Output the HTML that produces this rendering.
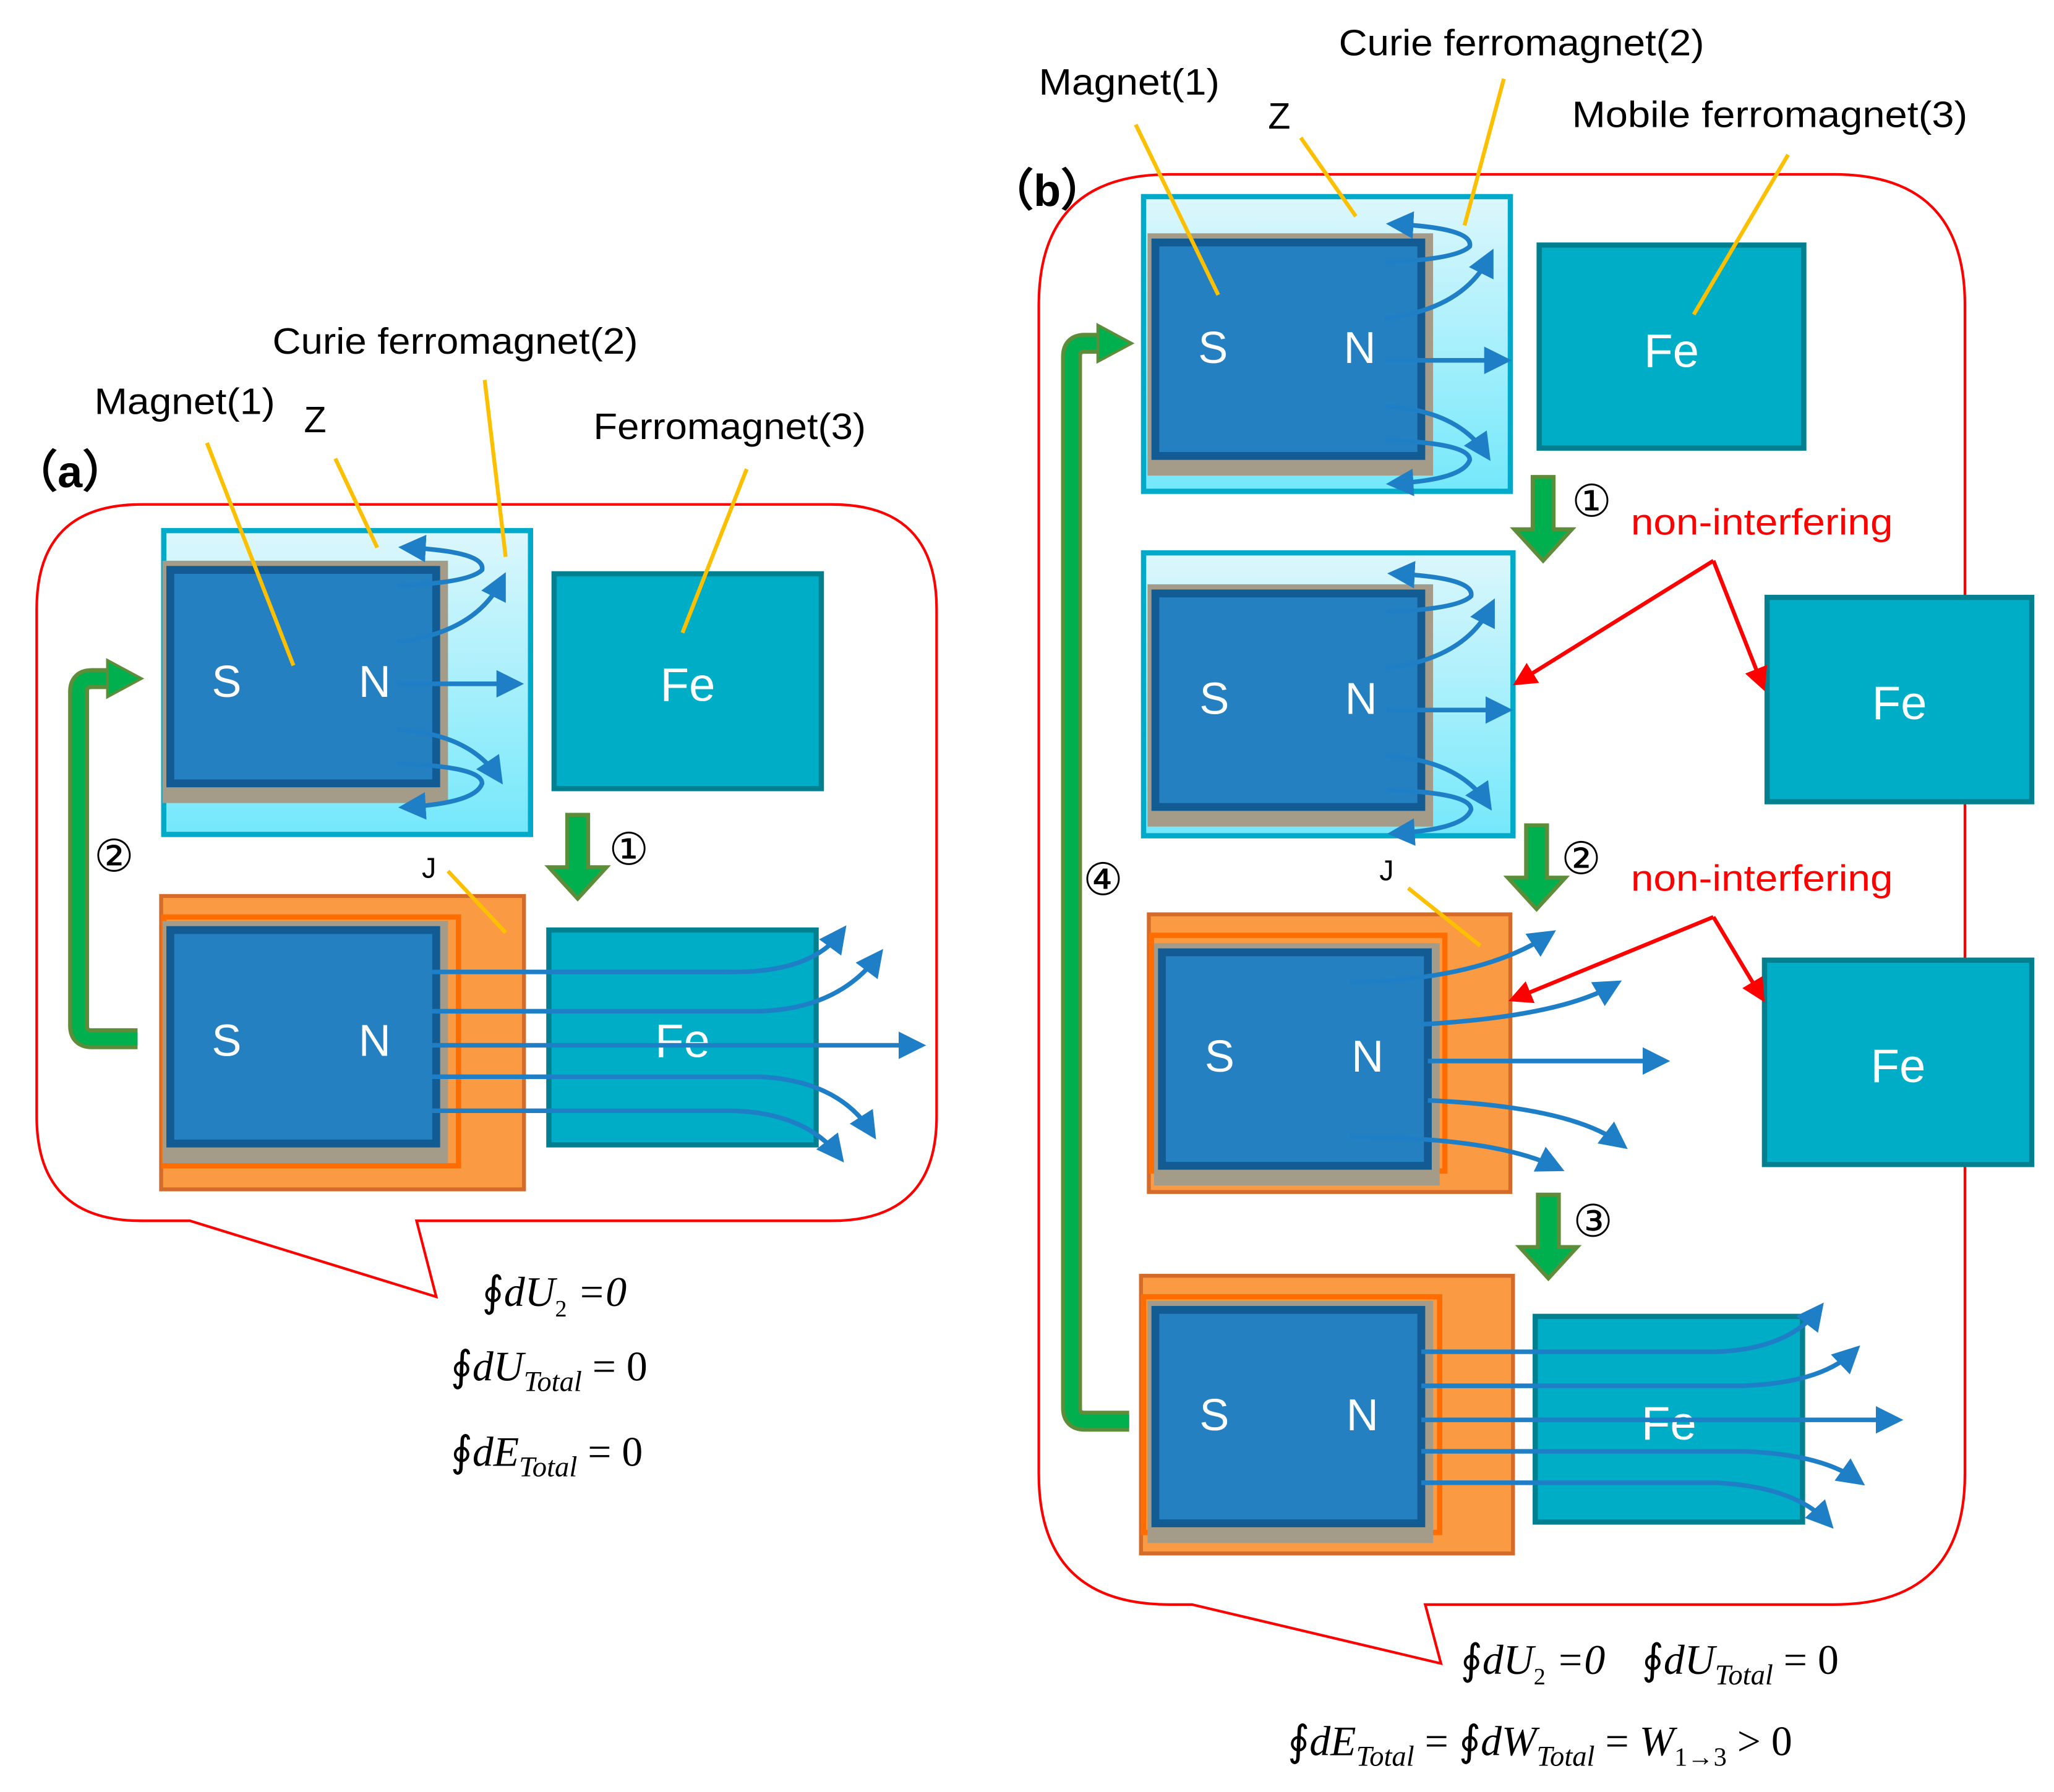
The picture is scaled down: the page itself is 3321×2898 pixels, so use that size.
<!DOCTYPE html>
<html><head><meta charset="utf-8"><style>html,body{margin:0;padding:0;background:#fff}svg{display:block}</style></head><body>
<svg width="3321" height="2898" viewBox="0 0 1568 1368" xmlns="http://www.w3.org/2000/svg" font-family="Liberation Sans, DejaVu Sans, sans-serif">
<defs>
<linearGradient id="lb" x1="0" y1="0" x2="0" y2="1"><stop offset="0" stop-color="#dcf7fc"/><stop offset="1" stop-color="#74e8fb"/></linearGradient>
<marker id="ab" markerWidth="6" markerHeight="6" refX="4" refY="3" orient="auto" markerUnits="strokeWidth"><path d="M0,0 L6,3 L0,6 Z" fill="#1f7fc6"/></marker>
<marker id="ar" markerWidth="6" markerHeight="6" refX="4" refY="3" orient="auto" markerUnits="strokeWidth"><path d="M0,0 L6,3 L0,6 Z" fill="#f00"/></marker>
<g id="mag">
<rect x="-2" y="-7" width="218" height="185" fill="#a49c88"/>
<rect x="4" y="0" width="203" height="163" fill="#2580c1" stroke="#135b93" stroke-width="6"/>
</g>
<g id="flux" fill="none" stroke="#1f7fc6" stroke-width="3.5" marker-end="url(#ab)">
<path d="M-30,12 Q25,10 35,0 Q38,-14 -22,-17"/>
<path d="M-30,55 Q30,48 50,8"/>
<path d="M-30,87 L60,87"/>
<path d="M-30,122 Q25,125 47,158"/>
<path d="M-30,148 Q35,150 35,163 Q30,178 -22,181"/>
</g>
<g id="garr"><path d="M-8,0 H8 V40 H22 L0,64 L-22,40 H-8 Z" fill="#00b04f" stroke="#5e8d3a" stroke-width="3"/></g>
</defs>

<path d="M108,385 H635 Q715,385 715,465 V852 Q715,932 635,932 H318 L333,990 L145,932 H108 Q28,932 28,852 V465 Q28,385 108,385 Z" fill="none" stroke="#f00" stroke-width="2"/>
<rect x="125" y="405" width="280" height="232" fill="url(#lb)" stroke="#00aac8" stroke-width="4"/>
<use href="#mag" x="126" y="435"/>
<use href="#flux" x="333" y="435"/>
<text x="173" y="532" font-size="34" fill="#fff" text-anchor="middle">S</text>
<text x="286" y="532" font-size="34" fill="#fff" text-anchor="middle">N</text>
<rect x="423" y="438" width="204" height="164" fill="#00adc7" stroke="#038090" stroke-width="4"/>
<text x="525" y="535" font-size="36" fill="#fff" text-anchor="middle">Fe</text>
<rect x="123" y="684" width="277" height="224" fill="#fa9a42" stroke="#d56b2a" stroke-width="3"/>
<rect x="125" y="700" width="225" height="190" fill="none" stroke="#ff6c00" stroke-width="4"/>
<use href="#mag" x="126" y="710"/>
<text x="173" y="806" font-size="34" fill="#fff" text-anchor="middle">S</text>
<text x="286" y="806" font-size="34" fill="#fff" text-anchor="middle">N</text>
<rect x="419" y="710" width="204" height="164" fill="#00adc7" stroke="#038090" stroke-width="4"/>
<text x="521" y="807" font-size="36" fill="#fff" text-anchor="middle">Fe</text>
<g fill="none" stroke="#1f7fc6" stroke-width="3.5" marker-end="url(#ab)">
<path d="M330,742 L560,742 Q620,742 642,712"/>
<path d="M330,772 L580,772 Q640,770 670,730"/>
<path d="M330,798 L700,798"/>
<path d="M330,822 L580,822 Q640,825 665,864"/>
<path d="M330,848 L560,848 Q615,850 640,882"/>
</g>
<use href="#garr" x="441" y="622"/>
<text x="480" y="660" font-size="34" text-anchor="middle">①</text>
<text x="87" y="665" font-size="34" text-anchor="middle">②</text>
<path d="M105,793 H70 Q60,793 60,783 V528 Q60,518 70,518 H85" fill="none" stroke="#5e8d3a" stroke-width="16"/>
<path d="M105,793 H70 Q60,793 60,783 V528 Q60,518 70,518 H85" fill="none" stroke="#00b04f" stroke-width="10"/>
<path d="M82,504 L108,518 L82,532 Z" fill="#00b04f" stroke="#5e8d3a" stroke-width="2"/>
<g stroke="#fcc000" stroke-width="3">
<line x1="158" y1="338" x2="224" y2="508"/><line x1="256" y1="350" x2="288" y2="418"/>
<line x1="370" y1="290" x2="386" y2="425"/><line x1="570" y1="358" x2="521" y2="483"/>
<line x1="342" y1="665" x2="386" y2="712"/>
</g>
<g font-size="28" fill="#000">
<text x="72" y="316" textLength="138" lengthAdjust="spacingAndGlyphs">Magnet(1)</text><text x="232" y="330">Z</text>
<text x="208" y="270" textLength="279" lengthAdjust="spacingAndGlyphs">Curie ferromagnet(2)</text><text x="453" y="335" textLength="208" lengthAdjust="spacingAndGlyphs">Ferromagnet(3)</text>
<text x="322" y="670" font-size="22">J</text>
<text x="10" y="372" font-size="34" font-weight="bold">（a）</text>
</g>
<g font-family="Liberation Serif, serif" font-size="32" fill="#000">
<text x="368" y="997">∮<tspan font-style="italic">dU</tspan><tspan font-size="18" dy="8">2</tspan><tspan dy="-8" font-style="italic"> =0</tspan></text>
<text x="344" y="1054">∮<tspan font-style="italic">dU</tspan><tspan font-size="22" dy="8" font-style="italic">Total</tspan><tspan dy="-8"> = 0</tspan></text>
<text x="344" y="1119">∮<tspan font-style="italic">dE</tspan><tspan font-size="22" dy="8" font-style="italic">Total</tspan><tspan dy="-8"> = 0</tspan></text>
</g>

<path d="M893,133 H1400 Q1500,133 1500,233 V1125 Q1500,1225 1400,1225 H1088 L1100,1270 L910,1225 H893 Q793,1225 793,1125 V233 Q793,133 893,133 Z" fill="none" stroke="#f00" stroke-width="2"/>
<rect x="873" y="150" width="280" height="225" fill="url(#lb)" stroke="#00aac8" stroke-width="4"/>
<use href="#mag" x="878" y="185"/>
<use href="#flux" x="1087" y="188"/>
<text x="926" y="277" font-size="34" fill="#fff" text-anchor="middle">S</text>
<text x="1038" y="277" font-size="34" fill="#fff" text-anchor="middle">N</text>
<rect x="1175" y="187" width="202" height="155" fill="#00adc7" stroke="#038090" stroke-width="4"/>
<text x="1276" y="280" font-size="36" fill="#fff" text-anchor="middle">Fe</text>
<rect x="873" y="422" width="282" height="216" fill="url(#lb)" stroke="#00aac8" stroke-width="4"/>
<use href="#mag" x="878" y="453"/>
<use href="#flux" x="1088" y="455"/>
<text x="927" y="545" font-size="34" fill="#fff" text-anchor="middle">S</text>
<text x="1039" y="545" font-size="34" fill="#fff" text-anchor="middle">N</text>
<rect x="1349" y="456" width="202" height="156" fill="#00adc7" stroke="#038090" stroke-width="4"/>
<text x="1450" y="549" font-size="36" fill="#fff" text-anchor="middle">Fe</text>
<rect x="877" y="698" width="276" height="212" fill="#fa9a42" stroke="#d56b2a" stroke-width="3"/>
<rect x="879" y="714" width="224" height="180" fill="none" stroke="#ff6c00" stroke-width="4"/>
<use href="#mag" x="883" y="727"/>
<text x="931" y="818" font-size="34" fill="#fff" text-anchor="middle">S</text>
<text x="1044" y="818" font-size="34" fill="#fff" text-anchor="middle">N</text>
<g fill="none" stroke="#1f7fc6" stroke-width="3.5" marker-end="url(#ab)">
<path d="M1030,750 Q1130,748 1182,714"/>
<path d="M1085,782 Q1190,776 1232,752"/>
<path d="M1090,810 L1268,810"/>
<path d="M1090,840 Q1200,845 1237,873"/>
<path d="M1030,868 Q1140,868 1188,891"/>
</g>
<rect x="1347" y="733" width="204" height="156" fill="#00adc7" stroke="#038090" stroke-width="4"/>
<text x="1449" y="826" font-size="36" fill="#fff" text-anchor="middle">Fe</text>
<rect x="871" y="974" width="284" height="212" fill="#fa9a42" stroke="#d56b2a" stroke-width="3"/>
<rect x="873" y="990" width="226" height="180" fill="none" stroke="#ff6c00" stroke-width="4"/>
<use href="#mag" x="878" y="1000"/>
<text x="927" y="1092" font-size="34" fill="#fff" text-anchor="middle">S</text>
<text x="1040" y="1092" font-size="34" fill="#fff" text-anchor="middle">N</text>
<rect x="1172" y="1005" width="204" height="157" fill="#00adc7" stroke="#038090" stroke-width="4"/>
<text x="1274" y="1099" font-size="36" fill="#fff" text-anchor="middle">Fe</text>
<g fill="none" stroke="#1f7fc6" stroke-width="3.5" marker-end="url(#ab)">
<path d="M1085,1032 L1310,1032 Q1365,1030 1388,1000"/>
<path d="M1085,1058 L1330,1058 Q1390,1056 1415,1032"/>
<path d="M1085,1084 L1446,1084"/>
<path d="M1085,1108 L1330,1108 Q1390,1110 1418,1130"/>
<path d="M1085,1132 L1310,1132 Q1370,1135 1395,1162"/>
</g>
<use href="#garr" x="1178" y="364"/>
<use href="#garr" x="1173" y="630"/>
<use href="#garr" x="1182" y="912"/>
<g font-size="34" text-anchor="middle"><text x="1215" y="394">①</text><text x="1207" y="667">②</text><text x="1216" y="944">③</text><text x="842" y="683">④</text></g>
<path d="M862,1085 H828 Q818,1085 818,1075 V272 Q818,262 828,262 H842" fill="none" stroke="#5e8d3a" stroke-width="16"/>
<path d="M862,1085 H828 Q818,1085 818,1075 V272 Q818,262 828,262 H842" fill="none" stroke="#00b04f" stroke-width="10"/>
<path d="M838,248 L864,262 L838,276 Z" fill="#00b04f" stroke="#5e8d3a" stroke-width="2"/>
<g fill="none" stroke="#f00" stroke-width="3" marker-end="url(#ar)">
<path d="M1308,428 L1160,520"/><path d="M1308,428 L1345,522"/>
<path d="M1308,700 L1157,762"/><path d="M1308,700 L1344,760"/>
</g>
<g font-size="28" fill="#f00"><text x="1245" y="408" textLength="200" lengthAdjust="spacingAndGlyphs">non-interfering</text><text x="1245" y="680" textLength="200" lengthAdjust="spacingAndGlyphs">non-interfering</text></g>
<g stroke="#fcc000" stroke-width="3">
<line x1="867" y1="95" x2="930" y2="225"/><line x1="993" y1="105" x2="1035" y2="165"/>
<line x1="1148" y1="60" x2="1118" y2="172"/><line x1="1365" y1="118" x2="1293" y2="240"/>
<line x1="1075" y1="678" x2="1130" y2="722"/>
</g>
<g font-size="28" fill="#000">
<text x="793" y="72" textLength="138" lengthAdjust="spacingAndGlyphs">Magnet(1)</text><text x="968" y="98">Z</text>
<text x="1022" y="42" textLength="279" lengthAdjust="spacingAndGlyphs">Curie ferromagnet(2)</text><text x="1200" y="97" textLength="302" lengthAdjust="spacingAndGlyphs">Mobile ferromagnet(3)</text>
<text x="1053" y="672" font-size="22">J</text>
<text x="755" y="157" font-size="34" font-weight="bold">（b）</text>
</g>
<g font-family="Liberation Serif, serif" font-size="32" fill="#000">
<text x="1115" y="1278">∮<tspan font-style="italic">dU</tspan><tspan font-size="18" dy="8">2</tspan><tspan dy="-8" font-style="italic"> =0</tspan><tspan dx="28">∮</tspan><tspan font-style="italic">dU</tspan><tspan font-size="22" dy="8" font-style="italic">Total</tspan><tspan dy="-8"> = 0</tspan></text>
<text x="983" y="1340">∮<tspan font-style="italic">dE</tspan><tspan font-size="22" dy="8" font-style="italic">Total</tspan><tspan dy="-8"> = ∮</tspan><tspan font-style="italic">dW</tspan><tspan font-size="22" dy="8" font-style="italic">Total</tspan><tspan dy="-8"> = </tspan><tspan font-style="italic">W</tspan><tspan font-size="20" dy="8">1→3</tspan><tspan dy="-8"> &gt; 0</tspan></text>
</g>
</svg>
</body></html>
